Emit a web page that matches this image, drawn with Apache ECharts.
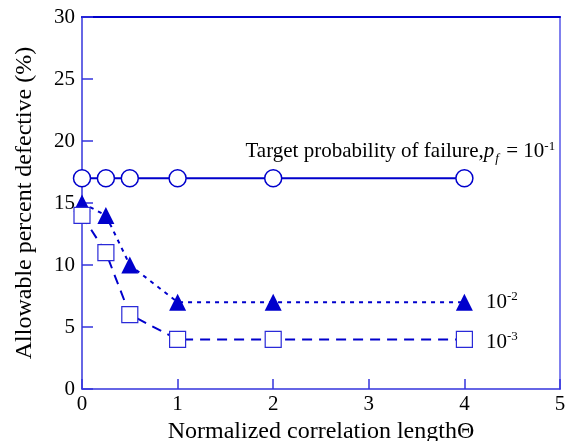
<!DOCTYPE html>
<html><head><meta charset="utf-8">
<script src="https://cdn.jsdelivr.net/npm/echarts@6/dist/echarts.min.js"></script>
<style>html,body{margin:0;padding:0;background:#fff}#c{width:571px;height:441px}</style>
</head><body><div id="c"></div>
<script>
var theta = [0, 0.25, 0.5, 1, 2, 4];
var pf1 = [17, 17, 17, 17, 17, 17];
var pf2 = [15, 14, 10, 7, 7, 7];
var pf3 = [14, 11, 6, 4, 4, 4];
var xTicks = [0, 1, 2, 3, 4, 5];
var yTicks = [0, 5, 10, 15, 20, 25, 30];

var FONT = 'Liberation Serif';
var BLUE = '#0000cc';
var AX = '#3535dd';
function pairs(ys){ return theta.map(function(x,i){ return [x, ys[i]]; }); }
var SUP = {fontSize: 13, fontFamily: FONT, color: '#000', padding: [0, 0, 11, 0]};
var MAIN = {fontSize: 21, fontFamily: FONT, color: '#000'};

var d1 = pairs(pf1);
d1[d1.length-1] = {value: d1[d1.length-1], label: {show: true, position: [100, -17], align: 'right', verticalAlign: 'middle',
  fontSize: 21, fontFamily: FONT, color: '#000',
  formatter: '{n|Target probability of failure,}{i|p}{sub|f}{t| = 10}{sup|-1}',
  rich: {
    n: MAIN,
    i: {fontStyle: 'italic', fontSize: 21, fontFamily: FONT, color: '#000'},
    sub: {fontStyle: 'italic', fontSize: 13, fontFamily: FONT, color: '#000', padding: [13, 2, 0, 1]},
    t: MAIN,
    sup: SUP
  }}};
var d2 = pairs(pf2);
d2[d2.length-1] = {value: d2[d2.length-1], label: {show: true, position: 'right', distance: 13,
  formatter: '{t|10}{sup|-2}', rich: {t: MAIN, sup: SUP}}};
var d3 = pairs(pf3);
d3[d3.length-1] = {value: d3[d3.length-1], label: {show: true, position: 'right', distance: 13, offset: [0, 3],
  formatter: '{t|10}{sup|-3}', rich: {t: MAIN, sup: SUP}}};

var chart = echarts.init(document.getElementById('c'), null, {renderer: 'canvas'});
chart.setOption({
  animation: false,
  backgroundColor: '#fff',
  textStyle: {fontFamily: FONT},
  grid: {left: 82, right: 11, top: 17, bottom: 52, outerBoundsMode: 'none', containLabel: false},
  xAxis: [{
    type: 'value', min: 0, max: 5, interval: 1,
    name: 'Normalized correlation lengthΘ', nameLocation: 'middle', nameGap: 28,
    nameTextStyle: {fontFamily: FONT, fontSize: 24, color: '#000'},
    axisLine: {onZero: false, lineStyle: {color: AX, width: 1.5}},
    axisTick: {inside: true, length: 10, lineStyle: {color: AX, width: 1.5}},
    axisLabel: {fontFamily: FONT, fontSize: 21, color: '#000', margin: 5,
      formatter: function(v){ return xTicks.indexOf(v) >= 0 ? String(v) : ''; }},
    splitLine: {show: false}
  }, {
    type: 'value', position: 'top', min: 0, max: 5, show: true,
    axisLine: {show: true, onZero: false, lineStyle: {color: BLUE, width: 2}},
    axisTick: {show: false}, axisLabel: {show: false}, splitLine: {show: false}
  }],
  yAxis: [{
    type: 'value', min: 0, max: 30, interval: 5,
    name: 'Allowable percent defective (%)', nameLocation: 'middle', nameGap: 45,
    nameTextStyle: {fontFamily: FONT, fontSize: 24, color: '#000'},
    axisLine: {show: true, onZero: false, lineStyle: {color: AX, width: 1.5}},
    axisTick: {show: true, inside: true, length: 11, lineStyle: {color: AX, width: 1.5}},
    axisLabel: {fontFamily: FONT, fontSize: 21, color: '#000', margin: 7,
      formatter: function(v){ return yTicks.indexOf(v) >= 0 ? String(v) : ''; }},
    splitLine: {show: false}
  }, {
    type: 'value', position: 'right', min: 0, max: 30, show: true,
    axisLine: {show: true, onZero: false, lineStyle: {color: '#8080ee', width: 2}},
    axisTick: {show: false}, axisLabel: {show: false}, splitLine: {show: false}
  }],
  series: [{
    type: 'line', data: d1, symbol: 'circle', symbolSize: 17, z: 3,
    lineStyle: {color: BLUE, width: 2, type: 'solid'},
    itemStyle: {color: '#fff', borderColor: BLUE, borderWidth: 1.5}
  }, {
    type: 'line', data: d2, symbol: 'triangle', symbolSize: 17, z: 3,
    lineStyle: {color: BLUE, width: 2, type: [4, 5]},
    itemStyle: {color: BLUE, borderWidth: 0}
  }, {
    type: 'line', data: d3, symbol: 'rect', symbolSize: 16, z: 3,
    lineStyle: {color: BLUE, width: 2, type: [10, 7]},
    itemStyle: {color: '#fff', borderColor: '#2a2ad8', borderWidth: 1.2}
  }]
});
</script></body></html>
